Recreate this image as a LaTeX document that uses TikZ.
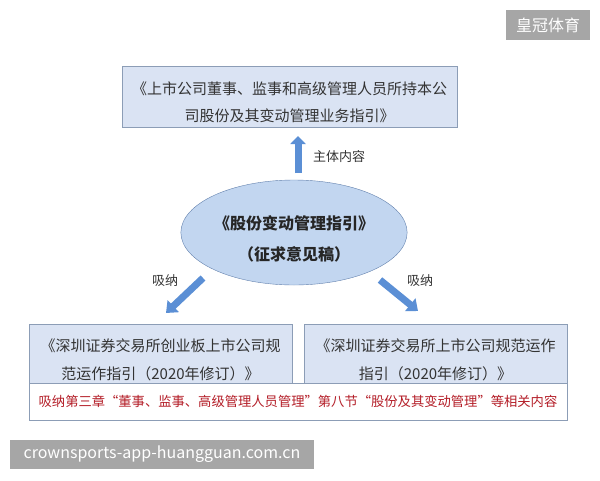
\documentclass[tikz,border=0pt]{standalone}
\usepackage{fontspec}
\setmainfont{Noto Sans CJK SC}
\usetikzlibrary{arrows.meta,shapes.geometric}
\definecolor{boxblue}{RGB}{218,227,243}
\definecolor{boxline}{RGB}{140,157,182}
\definecolor{ellblue}{RGB}{194,214,240}
\definecolor{ellline}{RGB}{98,128,172}
\definecolor{arrblue}{RGB}{91,143,213}
\definecolor{darkred}{RGB}{180,30,40}
\definecolor{markgrey}{RGB}{166,166,166}
\newcommand{\lowr}[1]{\rule{0pt}{#1}}

\begin{document}
\begin{tikzpicture}[x=1pt,y=-1pt,inner sep=0pt,
  docbox/.style={draw=boxline,fill=boxblue,align=center,text=black!80,font=\fontsize{15}{27.5}\selectfont},
  blk/.style={draw=arrblue,line width=7pt,-{Triangle[width=15pt,length=8pt]}},
  lbl/.style={text=black!80,font=\fontsize{13}{13}\selectfont},
  wmark/.style={fill=markgrey,text=white,font=\fontsize{16}{16}\selectfont}]
\useasboundingbox (0,0) rectangle (600,480);
\node[docbox,minimum width=335pt,minimum height=61pt] (top) at (289.5,96.5)
  {\lowr{24pt}《上市公司董事、监事和高级管理人员所持本公\\司股份及其变动管理业务指引》};
\node[ellipse,draw=ellline,fill=ellblue,minimum width=218pt,minimum height=105pt,
  align=center,text=black!85,font=\bfseries\fontsize{16}{30.5}\selectfont] (ell) at (294,232.5)
  {\lowr{27pt}《股份变动管理指引》\\（征求意见稿）};
\node[draw=boxline,fill=white,minimum width=538pt,minimum height=37pt,
  text=darkred,font=\fontsize{13.3}{13.3}\selectfont] (note) at (298,401.5)
  {吸纳第三章“董事、监事、高级管理人员管理”第八节“股份及其变动管理”等相关内容};
\node[docbox,minimum width=263pt,minimum height=59pt] (gem) at (160.5,353.5)
  {\lowr{25pt}《深圳证券交易所创业板上市公司规\\范运作指引（2020年修订）》};
\node[docbox,minimum width=263pt,minimum height=59pt] (main) at (435.5,353.5)
  {\lowr{25pt}《深圳证券交易所上市公司规范运作\\指引（2020年修订）》};
% arrows
\coordinate (u1) at (298,173); \coordinate (u2) at (298,136);
\coordinate (l1) at (203,278); \coordinate (l2) at (166,313);
\coordinate (r1) at (380,280); \coordinate (r2) at (418,311);
\draw[blk] (u1) -- (u2);
\draw[blk,-{Triangle[width=16pt,length=10pt]}] (l1) -- (l2);
\draw[blk,-{Triangle[width=16pt,length=10pt]}] (r1) -- (r2);
\node[lbl] (main-lbl) at (339,157) {主体内容};
\node[lbl] (l-lbl) at (165,281) {吸纳};
\node[lbl] (r-lbl) at (420,281) {吸纳};
% watermarks
\node[wmark,minimum width=84pt,minimum height=30pt] (wm1) at (548,25) {皇冠体育};
\node[wmark,minimum width=304pt,minimum height=29pt] (wm2) at (162,454.5)
  {crownsports-app-huangguan.com.cn};
\end{tikzpicture}
\end{document}
